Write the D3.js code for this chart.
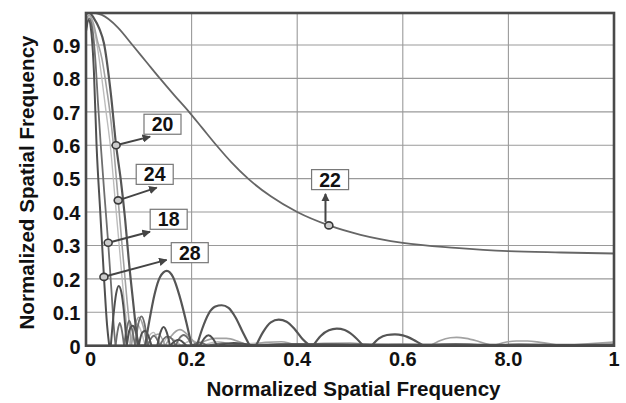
<!DOCTYPE html>
<html><head><meta charset="utf-8">
<script src="https://cdn.jsdelivr.net/npm/d3@7"></script>
<style>
html,body{margin:0;padding:0;background:#fff;}
svg{display:block;font-family:"Liberation Sans",Arial,Helvetica,sans-serif;font-weight:bold;}
</style></head>
<body><svg id="chart" width="626" height="403"></svg>
<script>
// ---- data ----
const xTickValues = [0, 0.2, 0.4, 0.6, 0.8, 1];
const xTickLabels = ["0", "0.2", "0.4", "0.6", "8.0", "1"];
const yTickValues = [0, 0.1, 0.2, 0.3, 0.4, 0.5, 0.6, 0.7, 0.8, 0.9];
const yTickLabels = ["0", "0.1", "0.2", "0.3", "0.4", "0.5", "0.6", "0.7", "0.8", "0.9"];

const freq22 = [0, 0.03, 0.06, 0.088, 0.114, 0.14, 0.167, 0.195, 0.22, 0.247, 0.276, 0.307, 0.35, 0.40, 0.46, 0.52, 0.6, 0.7, 0.8, 0.9, 1.0];
const val22  = [1.0, 0.99, 0.953, 0.9, 0.85, 0.8, 0.75, 0.7, 0.652, 0.6, 0.548, 0.5, 0.447, 0.4, 0.36, 0.332, 0.308, 0.293, 0.283, 0.279, 0.276];

const freq20 = [0,0.005,0.015,0.025,0.034,0.047,0.057,0.066,0.074,0.081, 0.09,0.098,0.112,0.12,0.13,0.14,0.153,0.165,0.177,0.19, 0.2,0.21,0.22,0.232,0.245,0.257,0.27,0.283,0.297,0.31, 0.322,0.335,0.35,0.365,0.38,0.395,0.41,0.424,0.43,0.445, 0.46,0.475,0.49,0.505,0.525,0.541,0.555,0.57,0.585,0.6, 0.62,0.639,0.7,0.76,0.82,0.9,1.0];
const val20  = [0.99,0.998,0.98,0.95,0.905,0.755,0.6,0.495,0.38,0.256, 0.12,0,0,0.075,0.155,0.205,0.224,0.205,0.15,0.07, 0,0,0.05,0.095,0.117,0.121,0.113,0.085,0.04,0, 0,0.04,0.07,0.078,0.072,0.05,0.02,0,0,0.03, 0.046,0.051,0.047,0.032,0,0,0.022,0.032,0.034,0.031, 0.018,0,0.004,0,0.003,0,0.003];

const freq24 = [0,0.006,0.014,0.022,0.03,0.04,0.046,0.052,0.061,0.07, 0.078,0.086,0.093,0.1,0.108,0.116,0.125,0.137,0.15,0.162, 0.178,0.194,0.21,0.225,0.245,0.266,0.29,0.31,0.34,0.37, 0.4,0.45,0.5,0.55,0.6,0.652,0.67,0.69,0.702,0.72, 0.745,0.771,0.79,0.815,0.836,0.86,0.9,0.95,1.0];
const val24  = [0.975,0.99,0.965,0.91,0.86,0.76,0.69,0.6,0.435,0.27, 0.13,0,0.06,0.085,0.06,0,0.025,0.035,0,0.03, 0.048,0.03,0,0.014,0.022,0.022,0.012,0,0.01,0.012, 0,0.007,0.008,0,0.004,0,0.015,0.024,0.025,0.022, 0.012,0,0.009,0.014,0.014,0.01,0,0.006,0.011];

const freqL = [0,0.006,0.014,0.022,0.03,0.038,0.046,0.055,0.064,0.072, 0.08,0.083,0.09,0.097,0.104,0.112,0.12,0.128,0.136,0.145, 0.155,0.165,0.18,0.2,0.22,0.25,0.28,0.33,0.4,0.5, 0.6,0.8,1.0];
const valL  = [0.97,0.985,0.955,0.89,0.8,0.7,0.6,0.44,0.28,0.14, 0.03,0,0.05,0.065,0.045,0,0.03,0.04,0.02,0, 0.025,0.02,0,0.015,0,0.012,0,0.008,0.004,0.003, 0.002,0.002,0.002];

const freq18 = [0,0.006,0.012,0.018,0.023,0.028,0.035,0.042,0.048,0.053, 0.056,0.06,0.064,0.068,0.072,0.077,0.082,0.087,0.093,0.099, 0.105,0.111,0.117,0.128,0.14,0.147,0.155,0.163,0.17,0.177, 0.185,0.193,0.2,0.215,0.23,0.26,0.3,0.4,0.5,0.6, 0.8,1.0];
const val18  = [0.95,0.98,0.95,0.85,0.72,0.6,0.45,0.308,0.17,0.05, 0,0.045,0.068,0.045,0,0.05,0.075,0.05,0,0.065, 0.088,0.065,0,0.03,0,0.02,0.028,0.02,0,0.022, 0.032,0.022,0,0.01,0,0.008,0,0.005,0.004,0.003, 0.003,0.003];

const freq28 = [0,0.005,0.01,0.015,0.02,0.027,0.034,0.04,0.044,0.047, 0.052,0.057,0.062,0.067,0.072,0.077,0.082,0.088,0.094,0.1, 0.106,0.112,0.118,0.124,0.135,0.141,0.147,0.153,0.159,0.175, 0.19,0.216,0.224,0.232,0.24,0.248,0.28,0.32,0.4,0.5, 0.6,0.8,1.0];
const val28  = [0.94,0.975,0.94,0.82,0.6,0.4,0.206,0.06,0,0, 0.09,0.155,0.179,0.16,0.1,0,0.045,0.06,0.045,0, 0.038,0.045,0.03,0,0,0.04,0.056,0.04,0,0.018, 0,0,0.022,0.031,0.022,0,0.008,0,0.004,0.003, 0.003,0.002,0.002];

// annotations: label, point on curve
const labelText  = ["20", "24", "18", "28", "22"];
const markerFreq = [0.057, 0.061, 0.042, 0.034, 0.46];
const markerVal  = [0.6, 0.435, 0.308, 0.206, 0.36];

// ---- layout ----
const svg = d3.select("#chart");
const x = d3.scaleLinear().domain([0, 1]).range([86, 614]);
const y = d3.scaleLinear().domain([0, 1]).range([345.7, 11.6]);
const frameTop = 13;

// grid
const grid = svg.append("g");
grid.selectAll("line.h").data(yTickValues.slice(1)).join("line")
  .attr("x1", x(0)).attr("x2", x(1))
  .attr("y1", d => y(d)).attr("y2", d => y(d))
  .attr("stroke", "#9a9a9a").attr("stroke-width", 1.1);
grid.selectAll("line.v").data(xTickValues.slice(1, -1)).join("line")
  .attr("x1", d => x(d)).attr("x2", d => x(d))
  .attr("y1", frameTop).attr("y2", y(0))
  .attr("stroke", "#9a9a9a").attr("stroke-width", 1.1);

// clip
svg.append("clipPath").attr("id", "plotclip").append("rect")
  .attr("x", x(0)).attr("y", frameTop).attr("width", x(1) - x(0)).attr("height", y(0) - frameTop);

const line = d3.line().x(d => x(d[0])).y(d => y(d[1])).curve(d3.curveMonotoneX);

function segments(fr, va) {
  const pts = fr.map((f, i) => [f, va[i]]);
  const segs = [];
  let cur = [];
  pts.forEach(p => {
    cur.push(p);
    if (p[1] === 0 && cur.length > 1) { segs.push(cur); cur = [p]; }
  });
  if (cur.length > 1) segs.push(cur);
  return segs;
}

const series = [
  { f: freqL,  v: valL,  color: "#bdbdbd", w: 1.4 },
  { f: freq24, v: val24, color: "#a2a2a2", w: 1.6 },
  { f: freq18, v: val18, color: "#6e6e6e", w: 1.8 },
  { f: freq28, v: val28, color: "#505050", w: 2.0 },
  { f: freq20, v: val20, color: "#555555", w: 2.2 },
  { f: freq22, v: val22, color: "#666666", w: 1.8 }
];
const curves = svg.append("g").attr("clip-path", "url(#plotclip)");
series.forEach(s => {
  curves.append("g").selectAll("path").data(segments(s.f, s.v)).join("path")
    .attr("d", line).attr("fill", "none")
    .attr("stroke", s.color).attr("stroke-width", s.w)
    .attr("stroke-linejoin", "round").attr("stroke-linecap", "round");
});

// frame
svg.append("rect").attr("x", x(0)).attr("y", frameTop)
  .attr("width", x(1) - x(0)).attr("height", y(0) - frameTop)
  .attr("fill", "none").attr("stroke", "#4a4a4a").attr("stroke-width", 2.6);

// tick labels
svg.append("g").selectAll("text").data(xTickValues).join("text")
  .attr("x", (d, i) => x(d) + (i === 0 ? 4.5 : 0)).attr("y", 366)
  .attr("text-anchor", "middle").attr("font-size", 20).attr("fill", "#111")
  .text((d, i) => xTickLabels[i]);
svg.append("g").selectAll("text").data(yTickValues).join("text")
  .attr("x", 80.5).attr("y", d => y(d) + 7.8)
  .attr("text-anchor", "end").attr("font-size", 20).attr("fill", "#111")
  .text((d, i) => yTickLabels[i]);

// axis titles
svg.append("text").attr("x", 353.5).attr("y", 395.5)
  .attr("text-anchor", "middle").attr("font-size", 20.6).attr("fill", "#111")
  .text("Normalized Spatial Frequency");
svg.append("text").attr("transform", "translate(33.5,182.5) rotate(-90)")
  .attr("text-anchor", "middle").attr("font-size", 20.6).attr("fill", "#111")
  .text("Normalized Spatial Frequency");

// annotations
const defs = svg.append("defs");
defs.append("marker").attr("id", "ah").attr("viewBox", "0 0 10 10")
  .attr("refX", 9).attr("refY", 5).attr("markerWidth", 4.2).attr("markerHeight", 4.2)
  .attr("markerUnits", "strokeWidth").attr("orient", "auto")
  .append("path").attr("d", "M0,0 L10,5 L0,10 z").attr("fill", "#444");

// pixel offsets of arrow tip and label box centre relative to the marker
const tipOff = [[34, -8.6], [38.5, -12.7], [41.8, -11], [62.7, -17], [-3.4, -31.5]];
const boxOff = [[46.4, -21], [36.5, -26], [60.5, -23.5], [85.8, -24.2], [1.2, -45.8]];
const ann = svg.append("g");
labelText.forEach((t, i) => {
  const mx = x(markerFreq[i]), my = y(markerVal[i]);
  const tx = mx + tipOff[i][0], ty = my + tipOff[i][1];
  let sx, sy;
  if (i === 4) { sx = tx; sy = my - 3.5; }
  else {
    const dx = tx - mx, dy = ty - my, L = Math.hypot(dx, dy);
    sx = mx + dx / L * 4; sy = my + dy / L * 4;
  }
  ann.append("line").attr("x1", sx).attr("y1", sy).attr("x2", tx).attr("y2", ty)
    .attr("stroke", "#444").attr("stroke-width", 2).attr("marker-end", "url(#ah)");
  ann.append("ellipse").attr("cx", mx).attr("cy", my).attr("rx", 4).attr("ry", 3.5)
    .attr("fill", "#ccc").attr("stroke", "#3a3a3a").attr("stroke-width", 1.6);
  const bx = mx + boxOff[i][0], by = my + boxOff[i][1];
  ann.append("rect").attr("x", bx - 18.5).attr("y", by - 10).attr("width", 37).attr("height", 20)
    .attr("fill", "#fff").attr("stroke", "#777").attr("stroke-width", 1.2);
  ann.append("text").attr("x", bx).attr("y", by + 7).attr("text-anchor", "middle")
    .attr("font-size", 19.5).attr("fill", "#111").text(t);
});
</script></body></html>
